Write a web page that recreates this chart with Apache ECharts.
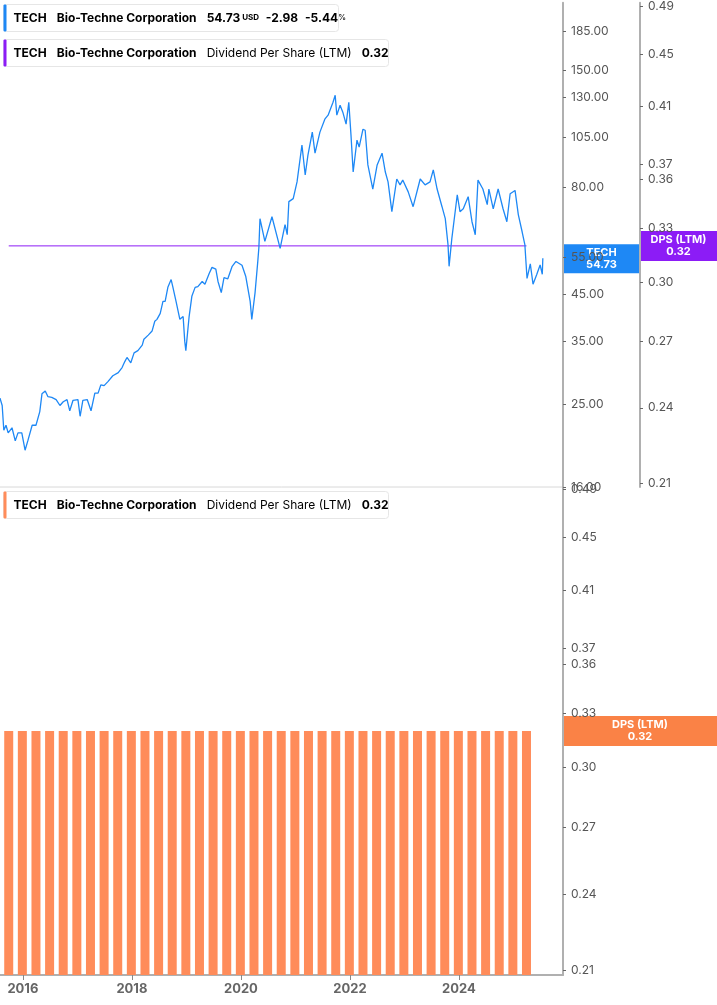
<!DOCTYPE html>
<html><head><meta charset="utf-8">
<script src="https://cdn.jsdelivr.net/npm/echarts@6/dist/echarts.min.js"></script>
<style>html,body{margin:0;padding:0;background:#fff}#c{width:717px;height:1005px}</style>
</head><body><div id="c"></div>
<script>
const priceYears=[2015.58,2015.62,2015.65,2015.69,2015.73,2015.80,2015.86,2015.91,2015.98,2016.04,2016.09,2016.17,2016.24,2016.31,2016.35,2016.41,2016.46,2016.53,2016.61,2016.68,2016.74,2016.81,2016.86,2016.92,2017.01,2017.05,2017.10,2017.18,2017.25,2017.32,2017.38,2017.43,2017.49,2017.56,2017.65,2017.75,2017.82,2017.87,2017.91,2017.98,2018.04,2018.11,2018.19,2018.22,2018.30,2018.37,2018.42,2018.46,2018.52,2018.57,2018.61,2018.66,2018.72,2018.75,2018.81,2018.88,2018.94,2018.97,2018.99,2019.05,2019.10,2019.16,2019.21,2019.29,2019.34,2019.42,2019.47,2019.54,2019.58,2019.64,2019.69,2019.76,2019.84,2019.91,2020.02,2020.09,2020.17,2020.20,2020.26,2020.31,2020.33,2020.35,2020.44,2020.57,2020.72,2020.81,2020.85,2020.88,2020.96,2021.03,2021.12,2021.18,2021.23,2021.31,2021.36,2021.45,2021.54,2021.60,2021.69,2021.73,2021.76,2021.82,2021.87,2021.93,2021.98,2022.02,2022.06,2022.13,2022.17,2022.24,2022.28,2022.33,2022.42,2022.50,2022.59,2022.65,2022.70,2022.77,2022.86,2022.92,2022.97,2023.07,2023.16,2023.29,2023.38,2023.47,2023.53,2023.60,2023.69,2023.75,2023.80,2023.82,2023.87,2023.97,2024.02,2024.08,2024.17,2024.24,2024.30,2024.35,2024.44,2024.52,2024.55,2024.63,2024.72,2024.81,2024.88,2024.94,2025.03,2025.09,2025.16,2025.21,2025.25,2025.31,2025.36,2025.43,2025.49,2025.53,2025.54];
const priceValues=[25.8,24.8,21.7,22.3,21.4,22.0,20.5,21.4,21.4,19.5,20.5,22.3,22.3,24.0,26.4,26.8,26.0,25.9,25.6,24.8,25.3,25.6,24.1,25.5,25.6,23.4,25.5,25.6,24.1,26.5,26.5,27.7,27.6,28.2,29.1,29.6,30.4,31.4,32.1,31.2,32.9,33.3,34.3,35.4,36.2,37.0,39.0,39.4,40.7,43.4,43.4,46.8,48.8,47.0,43.4,39.4,40.0,35.0,33.3,40.0,44.6,46.8,47.0,48.3,47.6,50.5,52.1,51.6,48.3,45.5,49.3,49.0,52.4,53.8,52.7,49.6,43.4,39.4,45.5,53.8,58.0,67.7,59.9,68.4,57.7,65.6,62.1,74.2,75.4,82.5,100.6,85.6,95.3,107.8,96.3,107.8,115.6,118.1,126.6,131.4,118.1,124.6,120.0,112.5,126.6,106.1,87.0,103.3,99.5,109.5,108.9,90.4,79.4,90.4,96.3,87.0,82.5,70.3,83.8,81.2,83.3,78.2,72.2,83.8,81.2,82.5,88.0,79.4,72.2,67.7,58.9,52.4,60.8,77.0,70.3,71.4,76.2,66.6,62.1,83.3,79.4,73.0,79.4,71.4,79.4,71.4,66.6,77.4,78.8,69.2,63.1,58.9,49.1,53.1,47.6,50.2,52.8,50.2,54.73];
const dpsYears=[2015.74,2015.99,2016.24,2016.49,2016.74,2016.99,2017.24,2017.49,2017.74,2017.99,2018.24,2018.49,2018.74,2018.99,2019.24,2019.49,2019.74,2019.99,2020.24,2020.49,2020.74,2020.99,2021.24,2021.49,2021.74,2021.99,2022.24,2022.49,2022.74,2022.99,2023.24,2023.49,2023.74,2023.99,2024.24,2024.49,2024.74,2024.99,2025.24];
const dpsValues=[0.32,0.32,0.32,0.32,0.32,0.32,0.32,0.32,0.32,0.32,0.32,0.32,0.32,0.32,0.32,0.32,0.32,0.32,0.32,0.32,0.32,0.32,0.32,0.32,0.32,0.32,0.32,0.32,0.32,0.32,0.32,0.32,0.32,0.32,0.32,0.32,0.32,0.32,0.32];
const priceTicks=[16,25,35,45,55,80,105,130,150,185];
const dpsTicks=[0.21,0.24,0.27,0.30,0.33,0.36,0.37,0.41,0.45,0.49];
const yearTicks=[2016,2018,2020,2022,2024];

const ln=Math.log;
const PMIN=ln(16), PMAX=5.3755;
const DTMIN=-1.5677, DTMAX=-0.7077;
const BBASE=-1.5694, BMAX=-0.7098-BBASE;
const XMIN=2015.58, XMAX=2025.91;
const lab={color:'#555',fontSize:12,fontFamily:'Inter'};
const axLine={show:true,lineStyle:{color:'#b0b0b0',width:2}};
const tick={show:true,length:3,inside:false,lineStyle:{color:'#666'}};

const chart=echarts.init(document.getElementById('c'));
chart.setOption({
 animation:false,
 grid:[{left:0,right:154,top:0,height:487},{left:0,right:154,top:487,height:488}],
 xAxis:[
  {type:'value',gridIndex:0,min:XMIN,max:XMAX,show:false},
  {type:'value',gridIndex:1,min:XMIN,max:XMAX,axisLine:axLine,splitLine:{show:false},
   axisTick:{show:true,length:5,lineStyle:{color:'#888'},customValues:yearTicks},
   axisLabel:Object.assign({},lab,{fontWeight:'bold',fontSize:13,color:'#666',customValues:yearTicks,formatter:v=>String(Math.round(v))})}
 ],
 yAxis:[
  {type:'value',gridIndex:0,position:'right',min:PMIN,max:PMAX,splitLine:{show:false},axisLine:axLine,
   axisTick:Object.assign({},tick,{customValues:priceTicks.map(ln)}),
   axisLabel:Object.assign({},lab,{margin:8,customValues:priceTicks.map(ln),formatter:v=>Math.exp(v).toFixed(2)})},
  {type:'value',gridIndex:0,position:'right',offset:77,min:DTMIN,max:DTMAX,splitLine:{show:false},axisLine:axLine,
   axisTick:Object.assign({},tick,{customValues:dpsTicks.map(ln)}),
   axisLabel:Object.assign({},lab,{margin:8,customValues:dpsTicks.map(ln),formatter:v=>Math.exp(v).toFixed(2)})},
  {type:'value',gridIndex:1,position:'right',min:0,max:BMAX,splitLine:{show:false},axisLine:axLine,
   axisTick:Object.assign({},tick,{customValues:dpsTicks.map(v=>ln(v)-BBASE)}),
   axisLabel:Object.assign({},lab,{margin:8,customValues:dpsTicks.map(v=>ln(v)-BBASE),formatter:v=>Math.exp(v+BBASE).toFixed(2)})}
 ],
 series:[
  {type:'line',xAxisIndex:0,yAxisIndex:0,symbol:'none',data:priceYears.map((y,i)=>[y,ln(priceValues[i])]),lineStyle:{color:'#1e88f5',width:1.3},z:3},
  {type:'line',xAxisIndex:0,yAxisIndex:1,symbol:'none',data:[[dpsYears[0],ln(dpsValues[0])],[dpsYears[dpsYears.length-1],ln(dpsValues[dpsValues.length-1])]],lineStyle:{color:'#8c1cf6',width:1},z:2},
  {type:'bar',xAxisIndex:1,yAxisIndex:2,barWidth:9,data:dpsYears.map((y,i)=>[y,ln(dpsValues[i])-BBASE]),itemStyle:{color:'#ff8c5a'}}
 ]
});

function legend(x,y,w,color,rich,text){
 return {type:'group',left:x,top:y,children:[
  {type:'rect',shape:{x:0,y:0,width:w,height:27,r:3},style:{fill:'#fff',stroke:'#e6e6e6',lineWidth:1}},
  {type:'rect',shape:{x:0,y:0,width:3,height:27,r:1},style:{fill:color}},
  {type:'text',x:10,y:13.5,style:{text:text,rich:rich,verticalAlign:'middle',fontFamily:'Inter',fontSize:12}}
 ]};
}
const rich={b:{fontWeight:'bold',fontSize:12,color:'#222',fontFamily:'Inter'},n:{fontSize:12,color:'#222',fontFamily:'Inter'},
 s:{fontSize:8,color:'#444',fontFamily:'Inter',fontWeight:'bold'},r:{fontSize:12,color:'#e53935',fontWeight:'bold',fontFamily:'Inter'},rs:{fontSize:8,color:'#e53935',fontFamily:'Inter'}};
const lastP=priceValues[priceValues.length-1];
const pY=chart.convertToPixel({gridIndex:0},[XMAX,ln(lastP)])[1];
const dY=chart.convertToPixel({xAxisIndex:0,yAxisIndex:1},[XMAX,ln(0.32)])[1];
const bY=chart.convertToPixel({xAxisIndex:1,yAxisIndex:2},[XMAX,ln(0.32)-BBASE])[1];
const gx=chart.convertToPixel({xAxisIndex:0,yAxisIndex:0},[XMAX,PMIN])[0];
chart.setOption({graphic:[
 {type:'line',shape:{x1:0,y1:487,x2:gx,y2:487},style:{stroke:'#d8d8d8',lineWidth:1}},
 legend(3,4,335,'#1e88f5',rich,'{b|TECH}   {b|Bio-Techne Corporation}   {b|54.73}{s| USD}  {r|-2.98}  {r|-5.44}{rs|%}'),
 legend(3,39,385,'#8c1cf6',rich,'{b|TECH}   {b|Bio-Techne Corporation}   {n|Dividend Per Share (LTM)}   {b|0.32}'),
 legend(3,491,385,'#ff8c5a',rich,'{b|TECH}   {b|Bio-Techne Corporation}   {n|Dividend Per Share (LTM)}   {b|0.32}'),
 {type:'group',left:gx,top:pY-14,children:[{type:'rect',shape:{x:0,y:0,width:77,height:29},style:{fill:'#1e88f5'}},
  {type:'text',x:38.5,y:14.5,style:{text:'TECH\n'+lastP.toFixed(2),fill:'#fff',fontWeight:'bold',fontSize:11,fontFamily:'Inter',align:'center',verticalAlign:'middle',lineHeight:12}}]},
 {type:'group',left:gx+77,top:dY-15,children:[{type:'rect',shape:{x:0,y:0,width:77,height:30},style:{fill:'#8c1cf6'}},
  {type:'text',x:38.5,y:15,style:{text:'DPS (LTM)\n0.32',fill:'#fff',fontWeight:'bold',fontSize:11,fontFamily:'Inter',align:'center',verticalAlign:'middle',lineHeight:12}}]},
 {type:'group',left:gx,top:bY-15,children:[{type:'rect',shape:{x:0,y:0,width:154,height:30},style:{fill:'#fa8246'}},
  {type:'text',x:77,y:15,style:{text:'DPS (LTM)\n0.32',fill:'#fff',fontWeight:'bold',fontSize:11,fontFamily:'Inter',align:'center',verticalAlign:'middle',lineHeight:12}}]}
]});
</script></body></html>
